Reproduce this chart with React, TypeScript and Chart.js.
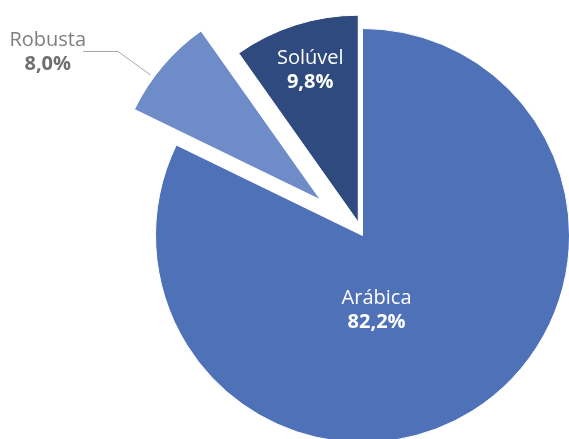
import React, { useEffect, useRef } from "react";
import { Chart, registerables } from "chart.js";

Chart.register(...registerables);

const categories = ["Arábica", "Robusta", "Solúvel"];
const shares = [82.2, 8.0, 9.8];
const shareLabels = ["82,2%", "8,0%", "9,8%"];

const FONT = "'Open Sans', 'Noto Sans', sans-serif";

// label placement as fractions of the radius, relative to each (exploded) slice apex
const labelPlacement = [
  { fx: 0.068, fy: 0.362, inside: true },
  { fx: -1.318, fy: -0.712, inside: false },
  { fx: -0.232, fy: -0.734, inside: true },
];

// pulls slices out of the pie along their bisector, keeping their radius and angles
const explodePlugin = {
  id: "explode",
  beforeDatasetDraw(chart: any, args: any, opts: any) {
    const meta = chart.getDatasetMeta(args.index);
    const { left, right, top, bottom } = chart.chartArea;
    const bx = (left + right) / 2;
    const by = (top + bottom) / 2;
    const dist: number[] = opts.distances || [];
    meta.data.forEach((arc: any, i: number) => {
      const d = dist[i] || 0;
      const mid = (arc.startAngle + arc.endAngle) / 2;
      arc.x = bx + Math.cos(mid) * d;
      arc.y = by + Math.sin(mid) * d;
    });
  },
};

const sliceLabelPlugin = {
  id: "sliceLabels",
  afterDatasetsDraw(chart: any) {
    const ctx = chart.ctx;
    const meta = chart.getDatasetMeta(0);
    const R = meta.controller.outerRadius;
    meta.data.forEach((arc: any, i: number) => {
      const cx = arc.x;
      const cy = arc.y;
      const mid = (arc.startAngle + arc.endAngle) / 2;
      const p = labelPlacement[i];
      const lx = cx + p.fx * R;
      const ly = cy + p.fy * R;
      ctx.save();
      if (!p.inside) {
        const ex = cx + Math.cos(mid - 0.07) * (R + 4);
        const ey = cy + Math.sin(mid - 0.07) * (R + 4);
        const elbowX = cx - 0.978 * R;
        const elbowY = Math.round(cy - 0.721 * R) + 0.5;
        const startX = cx - 1.147 * R;
        ctx.strokeStyle = "#A6A6A6";
        ctx.lineWidth = 1;
        ctx.beginPath();
        ctx.moveTo(startX, elbowY);
        ctx.lineTo(elbowX, elbowY);
        ctx.lineTo(ex, ey);
        ctx.stroke();
      }
      ctx.textAlign = "center";
      ctx.textBaseline = "middle";
      ctx.fillStyle = p.inside ? "#FFFFFF" : "#7F7F7F";
      ctx.font = `20px ${FONT}`;
      ctx.fillText(categories[i], lx, ly - 12);
      ctx.fillStyle = p.inside ? "#FFFFFF" : "#6F6F6F";
      ctx.font = `bold 20px ${FONT}`;
      ctx.fillText(shareLabels[i], lx, ly + 12);
      ctx.restore();
    });
  },
};

export default function App() {
  const canvasRef = useRef<HTMLCanvasElement | null>(null);

  useEffect(() => {
    if (!canvasRef.current) return;
    const chart = new Chart(canvasRef.current, {
      type: "pie",
      data: {
        labels: categories,
        datasets: [
          {
            data: shares,
            backgroundColor: ["#4E71B7", "#6E8CC8", "#2E4A7E"],
            borderColor: "#FFFFFF",
            borderWidth: 1,
            hoverOffset: 0,
          },
        ],
      },
      options: {
        responsive: false,
        animation: false,
        events: [],
        layout: { padding: { left: 155, top: 28, right: 0, bottom: 0 } },
        plugins: {
          legend: { display: false },
          tooltip: { enabled: false },
          explode: { distances: [0, 55, 14] },
        } as any,
      },
      plugins: [explodePlugin, sliceLabelPlugin],
    });
    return () => chart.destroy();
  }, []);

  return (
    <div
      style={{
        position: "fixed",
        left: 0,
        top: 0,
        width: 569,
        height: 439,
        overflow: "hidden",
        background: "#FFFFFF",
      }}
    >
      <canvas
        ref={canvasRef}
        width={570}
        height={443}
        style={{ position: "absolute", left: 0, top: 0, width: 570, height: 443 }}
      />
    </div>
  );
}
